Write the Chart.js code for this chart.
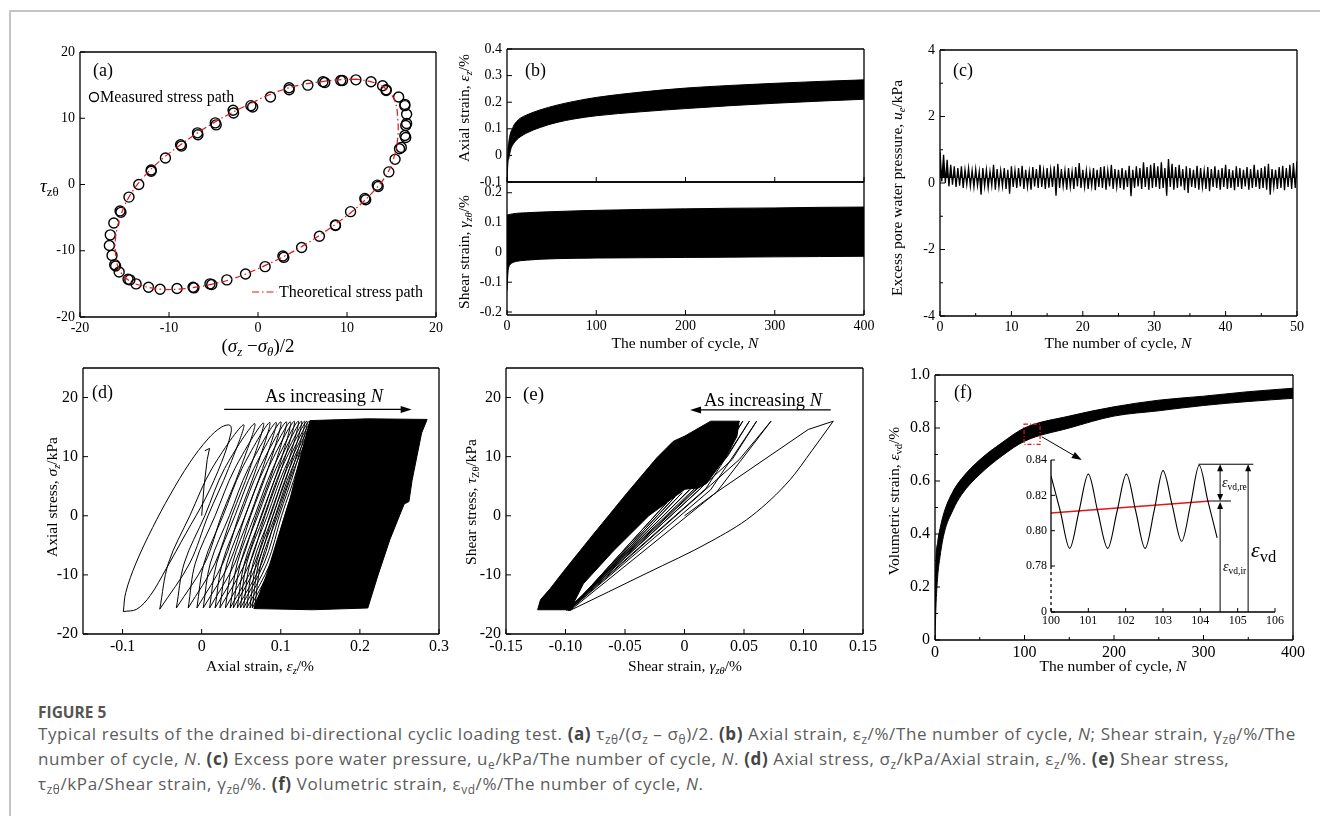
<!DOCTYPE html>
<html>
<head>
<meta charset="utf-8">
<title>Drained bi-directional cyclic loading test</title>
<script src="https://cdn.jsdelivr.net/npm/chart.js@4.4.1/dist/chart.umd.min.js"></script>
<style>
  html, body { margin: 0; padding: 0; background: #fff; }
  body { position: relative; width: 1320px; height: 816px; overflow: hidden;
         font-family: 'Liberation Serif', 'Times New Roman', serif; color: #000; }
  canvas { position: absolute; }
  .edge-top { position: absolute; left: 10px; top: 10px; width: 1310px; border-top: 2px solid #c4c4c4; }
  .edge-left { position: absolute; left: 9px; top: 10px; height: 806px; border-left: 2px solid #c4c4c4; }
  .lbl { position: absolute; white-space: nowrap; line-height: 1; transform: translate(-50%, -50%); }
  .lbl.left { transform: translate(0, -50%); }
  .lbl.rot { transform: translate(-50%, -50%) rotate(-90deg); }
  .lbl sub { font-size: 68%; vertical-align: baseline; position: relative; top: 0.3em; }
  .t15 { font-size: 15.5px; }
  .t16 { font-size: 16px; }
  .t18 { font-size: 18px; }
  #caption { position: absolute; left: 38px; top: 702px; font-family: 'Open Sans', 'Noto Sans', sans-serif; color: #5c5c5c; }
  #caption .fig { font-weight: 700; font-size: 15.5px; line-height: 20px; color: #555; }
  #caption .txt { font-size: 17px; letter-spacing: 0.6px; line-height: 23px; white-space: nowrap; }
  #caption b { color: #444; }
  #caption sub { font-size: 70%; vertical-align: baseline; position: relative; top: 0.35em; }
</style>
</head>
<body>
<div class="edge-top"></div>
<div class="edge-left"></div>

<canvas id="chartA"></canvas>
<canvas id="chartB1"></canvas>
<canvas id="chartB2"></canvas>
<canvas id="chartC"></canvas>
<canvas id="chartD"></canvas>
<canvas id="chartE"></canvas>
<canvas id="chartF"></canvas>
<canvas id="chartInset"></canvas>

<!-- panel (a) -->
<div class="lbl left t18" style="left:93px;top:70px">(a)</div>
<div class="lbl left t16" style="left:100px;top:97px">Measured stress path</div>
<div class="lbl left t16" style="left:279px;top:292px">Theoretical stress path</div>
<div class="lbl left" style="left:40px;top:185px;font-size:19px"><i>τ</i><sub>zθ</sub></div>
<div class="lbl" style="left:258px;top:345px;font-size:19px">(<i>σ</i><sub><i>z</i></sub> −<i>σ</i><sub><i>θ</i></sub>)/2</div>

<!-- panel (b) -->
<div class="lbl left t18" style="left:525px;top:70px">(b)</div>
<div class="lbl rot t15" style="left:464px;top:108px">Axial strain, <i>ε<sub>z</sub></i>/%</div>
<div class="lbl rot t15" style="left:464px;top:252px">Shear strain, <i>γ<sub>zθ</sub></i>/%</div>
<div class="lbl t15" style="left:685px;top:343px">The number of cycle, <i>N</i></div>

<!-- panel (c) -->
<div class="lbl left t18" style="left:953px;top:70px">(c)</div>
<div class="lbl rot t15" style="left:897px;top:188px">Excess pore water pressure, <i>u<sub>e</sub></i>/kPa</div>
<div class="lbl t15" style="left:1118px;top:343px">The number of cycle, <i>N</i></div>

<!-- panel (d) -->
<div class="lbl left t18" style="left:92px;top:392px">(d)</div>
<div class="lbl" style="left:324px;top:396px;font-size:18.5px">As increasing <i>N</i></div>
<div class="lbl rot t15" style="left:52px;top:497px">Axial stress, <i>σ<sub>z</sub></i>/kPa</div>
<div class="lbl t15" style="left:260px;top:666px">Axial strain, <i>ε<sub>z</sub></i>/%</div>

<!-- panel (e) -->
<div class="lbl left" style="left:523px;top:393px;font-size:19px">(e)</div>
<div class="lbl" style="left:763px;top:400px;font-size:18.5px">As increasing <i>N</i></div>
<div class="lbl rot t15" style="left:471px;top:502px">Shear stress, <i>τ</i><sub>Zθ</sub>/kPa</div>
<div class="lbl t15" style="left:685px;top:666px">Shear strain, <i>γ<sub>zθ</sub></i>/%</div>

<!-- panel (f) -->
<div class="lbl left t18" style="left:954px;top:392px">(f)</div>
<div class="lbl rot t15" style="left:894px;top:501px">Volumetric strain, <i>ε</i><sub>vd</sub>/%</div>
<div class="lbl t15" style="left:1113px;top:666px">The number of cycle, <i>N</i></div>
<div class="lbl left" style="left:1222px;top:483px;font-size:14px"><i>ε</i><sub>vd,re</sub></div>
<div class="lbl left" style="left:1223px;top:567px;font-size:14px"><i>ε</i><sub>vd,ir</sub></div>
<div class="lbl left" style="left:1251px;top:550px;font-size:22px"><i>ε</i><sub style="font-size:75%">vd</sub></div>

<div id="caption">
  <div class="fig">FIGURE 5</div>
  <div class="txt">Typical results of the drained bi-directional cyclic loading test. <b>(a)</b> τ<sub>zθ</sub>/(σ<sub>z</sub> – σ<sub>θ</sub>)/2. <b>(b)</b> Axial strain, ε<sub>z</sub>/%/The number of cycle, <i>N</i>; Shear strain, γ<sub>zθ</sub>/%/The<br>number of cycle, <i>N</i>. <b>(c)</b> Excess pore water pressure, u<sub>e</sub>/kPa/The number of cycle, <i>N</i>. <b>(d)</b> Axial stress, σ<sub>z</sub>/kPa/Axial strain, ε<sub>z</sub>/%. <b>(e)</b> Shear stress,<br>τ<sub>zθ</sub>/kPa/Shear strain, γ<sub>zθ</sub>/%. <b>(f)</b> Volumetric strain, ε<sub>vd</sub>/%/The number of cycle, <i>N</i>.</div>
</div>

<script>
// ---------- (a) stress path ----------
const aMeasX = [11.0, 9.3, 7.3, 5.6, 3.5, 1.4, -0.8, -2.8, -4.8, -6.8, -8.7, -10.4, -12.0, -13.4, -14.5, -15.5, -16.2, -16.6, -16.7, -16.4, -16.1, -15.6, -14.6, -13.7, -12.3, -11.0, -9.1, -7.3, -5.4, -3.5, -1.4, 0.8, 2.8, 4.9, 6.9, 8.7, 10.4, 12.0, 13.4, 14.7, 15.4, 16.1, 16.5, 16.7, 16.7, 16.5, 15.8, 14.4, 14.0, 12.7];
const aMeasY = [15.8, 15.7, 15.5, 15.0, 14.6, 13.2, 11.9, 11.2, 9.3, 7.8, 6.0, 4.0, 2.2, 0.0, -1.9, -4.0, -5.8, -7.6, -9.2, -10.7, -12.1, -13.2, -14.3, -15.0, -15.5, -15.8, -15.7, -15.5, -15.0, -14.4, -13.5, -12.4, -10.8, -9.5, -7.8, -6.1, -4.1, -2.1, -0.1, 1.9, 3.8, 5.6, 7.4, 9.2, 10.6, 12.1, 13.2, 14.3, 14.9, 15.5];
// second recorded cycle, where its markers sit apart from the first
const aMeas2X = [-0.6, -2.75, -4.7, -6.75, -8.6, -12.0, -15.4, 3.5, 7.5, 9.5, 14.4, 16.5, 16.6, 16.6, 15.9, 13.5, 12.1, 8.7, 2.9, -5.2, -7.2, -14.4, -16.0];
const aMeas2Y = [11.7, 10.8, 9.0, 7.5, 5.8, 2.0, -4.2, 14.3, 15.4, 15.7, 14.2, 11.9, 8.9, 7.1, 5.4, -0.3, -2.3, -6.2, -11.0, -15.1, -15.6, -14.4, -12.3];
const aTheoX = [11, 9, 7, 5, 3, 1, -1, -3, -5, -7, -9, -11, -13, -14.5, -15.5, -16.0, -16.0, -15.6, -14.5, -13, -11, -9, -7, -5, -3, -1, 1, 3, 5, 7, 9, 11, 13, 14.5, 15.3, 15.7, 15.7, 15.4, 14.5, 13, 11];
const aTheoY = [15.9, 15.8, 15.5, 15.1, 14.4, 13.4, 12.1, 10.8, 9.3, 7.6, 5.7, 3.6, 0.9, -1.9, -5.0, -8.0, -10.5, -12.8, -14.5, -15.3, -15.8, -15.8, -15.5, -15.0, -14.3, -13.3, -12.1, -10.8, -9.3, -7.6, -5.7, -3.6, -1.0, 1.6, 4.2, 7.0, 10.0, 12.5, 14.3, 15.4, 15.9];
const aTicks = [-20, -10, 0, 10, 20];
const aTickLabels = ['-20', '-10', '0', '10', '20'];

// ---------- (b) strain envelopes vs cycle ----------
const bN = [0, 1, 2, 4, 6, 8, 11, 15, 22, 37, 56, 75, 100, 150, 200, 250, 300, 350, 400];
const axialUpper = [-0.10, 0.02, 0.05, 0.085, 0.10, 0.115, 0.128, 0.14, 0.152, 0.171, 0.189, 0.203, 0.218, 0.238, 0.253, 0.263, 0.271, 0.278, 0.284];
const axialLower = [-0.10, -0.03, -0.012, 0.02, 0.037, 0.047, 0.059, 0.07, 0.084, 0.105, 0.124, 0.137, 0.149, 0.164, 0.176, 0.187, 0.196, 0.204, 0.211];
const shearUpper = [0.125, 0.126, 0.127, 0.128, 0.129, 0.13, 0.131, 0.132, 0.133, 0.135, 0.137, 0.139, 0.141, 0.144, 0.146, 0.148, 0.149, 0.151, 0.152];
const shearLower = [-0.13, -0.07, -0.05, -0.04, -0.035, -0.032, -0.03, -0.028, -0.026, -0.023, -0.021, -0.02, -0.019, -0.018, -0.017, -0.016, -0.015, -0.014, -0.013];
const bXTicks = [0, 100, 200, 300, 400];
const bXLabels = ['0', '100', '200', '300', '400'];
const bTopTicks = [-0.1, 0, 0.1, 0.2, 0.3, 0.4];
const bTopLabels = ['-0.1', '0', '0.1', '0.2', '0.3', '0.4'];
const bBotTicks = [-0.2, -0.1, 0, 0.1, 0.2];
const bBotLabels = ['-0.2', '-0.1', '0', '0.1', '0.2'];

// ---------- (c) excess pore water pressure, peaks and troughs every half cycle ----------
const cStep = 0.5;
const cMean = 0.15;
const cPeaks = [0.95, 0.85, 0.70, 0.55, 0.50, 0.45, 0.50, 0.40, 0.45, 0.38, 0.42,
  0.35, 0.45, 0.40, 0.35, 0.55, 0.42, 0.38, 0.45, 0.40, 0.50,
  0.38, 0.45, 0.52, 0.40, 0.35, 0.48, 0.42, 0.55, 0.38, 0.45,
  0.40, 0.50, 0.58, 0.42, 0.38, 0.45, 0.35, 0.48, 0.60, 0.40,
  0.38, 0.35, 0.45, 0.40, 0.48, 0.50, 0.38, 0.55, 0.42, 0.40,
  0.45, 0.38, 0.52, 0.40, 0.50, 0.45, 0.62, 0.48, 0.55, 0.60,
  0.50, 0.62, 0.45, 0.72, 0.58, 0.48, 0.55, 0.42, 0.50, 0.45,
  0.40, 0.52, 0.45, 0.38, 0.48, 0.42, 0.50, 0.40, 0.45, 0.55,
  0.42, 0.38, 0.50, 0.45, 0.40, 0.48, 0.42, 0.55, 0.40, 0.45,
  0.50, 0.58, 0.42, 0.40, 0.48, 0.52, 0.45, 0.55, 0.60, 0.65];
const cTroughs = [0.05, 0.0, -0.10, -0.05, -0.12, -0.08, -0.15, -0.05, -0.10, -0.12, -0.08,
  -0.35, -0.10, -0.15, -0.08, -0.20, -0.12, -0.10, -0.18, -0.32, -0.12,
  -0.15, -0.10, -0.18, -0.12, -0.20, -0.10, -0.15, -0.12, -0.18, -0.14,
  -0.12, -0.38, -0.15, -0.10, -0.20, -0.12, -0.18, -0.10, -0.15, -0.12,
  -0.18, -0.10, -0.22, -0.12, -0.15, -0.20, -0.10, -0.18, -0.12, -0.15,
  -0.20, -0.12, -0.40, -0.15, -0.10, -0.18, -0.12, -0.20, -0.15, -0.12,
  -0.18, -0.15, -0.38, -0.12, -0.20, -0.15, -0.10, -0.22, -0.30, -0.12,
  -0.15, -0.20, -0.12, -0.18, -0.25, -0.12, -0.15, -0.20, -0.12, -0.18,
  -0.15, -0.22, -0.12, -0.18, -0.10, -0.20, -0.15, -0.12, -0.18, -0.15,
  -0.20, -0.35, -0.12, -0.18, -0.15, -0.22, -0.12, -0.18, -0.15, -0.10];
const cXTicks = [0, 10, 20, 30, 40, 50];
const cXMinor = [5, 15, 25, 35, 45];
const cYTicks = [-4, -2, 0, 2, 4];
const cYMinor = [-3, -1, 1, 3];

// ---------- (d) axial stress-strain loops, each closed from its lower-left tip ----------
const dStart = [[0, 0], [0.003, 5], [0.007, 9.5], [0.010, 11.4], [0.004, 11.0]];
const dLoops = [
  [[-0.099, -16.2], [-0.096, -13], [-0.083, -8], [-0.062, -2], [-0.040, 3.5], [-0.015, 9], [0.008, 13], [0.025, 15], [0.036, 15.3], [0.037, 14], [0.025, 9], [0.005, 3], [-0.020, -3], [-0.045, -9], [-0.065, -13.5], [-0.082, -15.8], [-0.099, -16.2]],
  [[-0.053, -15.8], [-0.042, -8], [-0.015, 0], [0.013, 8], [0.053, 15.4], [0.034, 8], [0.008, 0], [-0.015, -8], [-0.053, -15.8]],
  [[-0.032, -15.6], [-0.022, -8], [0.004, 0], [0.029, 8], [0.067, 15.6], [0.049, 8], [0.025, 0], [0.004, -8], [-0.032, -15.6]],
  [[-0.017, -15.6], [-0.008, -8], [0.017, 0], [0.042, 8], [0.078, 15.7], [0.061, 8], [0.038, 0], [0.017, -8], [-0.017, -15.6]],
  [[-0.006, -15.6], [0.003, -8], [0.027, 0], [0.051, 8], [0.086, 15.8], [0.069, 8], [0.047, 0], [0.027, -8], [-0.006, -15.6]],
  [[0.002, -15.6], [0.011, -8], [0.035, 0], [0.059, 8], [0.094, 15.8], [0.077, 8], [0.055, 0], [0.035, -8], [0.002, -15.6]],
  [[0.010, -15.6], [0.019, -8], [0.042, 0], [0.066, 8], [0.100, 15.9], [0.084, 8], [0.062, 0], [0.042, -8], [0.010, -15.6]],
  [[0.017, -15.6], [0.026, -8], [0.049, 0], [0.073, 8], [0.107, 15.9], [0.091, 8], [0.069, 0], [0.049, -8], [0.017, -15.6]],
  [[0.023, -15.6], [0.032, -8], [0.055, 0], [0.079, 8], [0.112, 15.9], [0.097, 8], [0.075, 0], [0.055, -8], [0.023, -15.6]],
  [[0.030, -15.6], [0.039, -8], [0.061, 0], [0.084, 8], [0.117, 16], [0.101, 8], [0.080, 0], [0.061, -8], [0.030, -15.6]],
  [[0.036, -15.6], [0.045, -8], [0.067, 0], [0.090, 8], [0.122, 16], [0.107, 8], [0.086, 0], [0.067, -8], [0.036, -15.6]],
  [[0.040, -15.6], [0.049, -8], [0.071, 0], [0.094, 8], [0.126, 16], [0.111, 8], [0.090, 0], [0.071, -8], [0.040, -15.6]],
  [[0.045, -15.6], [0.054, -8], [0.076, 0], [0.098, 8], [0.130, 16], [0.115, 8], [0.094, 0], [0.076, -8], [0.045, -15.6]],
  [[0.049, -15.6], [0.057, -8], [0.079, 0], [0.101, 8], [0.133, 16], [0.118, 8], [0.098, 0], [0.079, -8], [0.049, -15.6]],
  [[0.053, -15.6], [0.061, -8], [0.083, 0], [0.105, 8], [0.136, 16], [0.121, 8], [0.101, 0], [0.083, -8], [0.053, -15.6]],
  [[0.057, -15.6], [0.065, -8], [0.087, 0], [0.108, 8], [0.139, 16], [0.124, 8], [0.105, 0], [0.087, -8], [0.057, -15.6]],
  [[0.061, -15.6], [0.069, -8], [0.090, 0], [0.111, 8], [0.141, 16], [0.126, 8], [0.108, 0], [0.090, -8], [0.061, -15.6]],
  [[0.064, -15.6], [0.072, -8], [0.093, 0], [0.114, 8], [0.143, 16], [0.128, 8], [0.111, 0], [0.093, -8], [0.064, -15.6]],
  [[0.067, -15.6], [0.075, -8], [0.096, 0], [0.117, 8], [0.145, 16], [0.130, 8], [0.114, 0], [0.096, -8], [0.067, -15.6]]
];
// region where the later cycles overlap completely
const dSolid = [[0.066, -15.7], [0.14, -15.9], [0.21, -15.6], [0.223, -10], [0.238, -4], [0.250, 0], [0.256, 2.0], [0.262, 2.4], [0.266, 6], [0.272, 10], [0.278, 14], [0.285, 16.3], [0.21, 16.4], [0.137, 16.1], [0.125, 10], [0.112, 3], [0.098, -3], [0.082, -10], [0.066, -15.7]];
const dXTicks = [-0.1, 0, 0.1, 0.2, 0.3];
const dXLabels = ['-0.1', '0', '0.1', '0.2', '0.3'];
const stressTicks = [-20, -10, 0, 10, 20];
const stressLabels = ['-20', '-10', '0', '10', '20'];

// ---------- (e) shear stress-strain loops ----------
const eFirst = [[0, 0], [0.027, 4.0], [0.104, 14.6], [0.125, 16.0]];
const eFirstBack = [[-0.096, -16], [-0.0316, -9.7], [0.0215, -4.4], [0.0566, 0], [0.0887, 6.1], [0.107, 11.0], [0.125, 16]];
const eCycles = [
  [[-0.096, -16], [0.027, 4.0], [0.0727, 16], [0.046, 9.5], [0.022, 5.2], [-0.097, -16]],
  [[-0.097, -16], [0.022, 4.4], [0.0606, 16], [0.040, 9.5], [0.017, 5.3], [-0.098, -16]],
  [[-0.098, -16], [0.018, 4.6], [0.0545, 16], [0.036, 10], [0.013, 5.0], [-0.098, -16]],
  [[-0.098, -16], [0.014, 4.7], [0.049, 16], [0.033, 11], [0.010, 4.9], [-0.099, -16]],
  [[-0.099, -16], [0.011, 4.8], [0.046, 16], [0.030, 11], [0.006, 4.7], [-0.099, -16]]
];
const eFan = [[-0.097, -16], [-0.015, 2.2], [-0.097, -16], [-0.008, 3.2], [-0.097, -16], [-0.002, 3.9], [-0.097, -16], [0.004, 4.4]];
const eSolid = [[-0.1234, -15.9], [-0.121, -14.2], [-0.1128, -12.3], [-0.1016, -9.4], [-0.0793, -3.8], [-0.0485, 3.8], [-0.0233, 9.8], [-0.0094, 12.6], [0.0004, 13.5], [0.0116, 14.8], [0.022, 16.0], [0.046, 16.0], [0.044, 13.4], [0.035, 10.0], [0.027, 7.8], [0.0186, 5.5], [0.0116, 4.7], [0.0004, 4.5], [-0.03, 0], [-0.06, -6], [-0.085, -11.5], [-0.096, -15.9], [-0.1234, -15.9]];
const eXTicks = [-0.15, -0.10, -0.05, 0, 0.05, 0.10, 0.15];
const eXLabels = ['-0.15', '-0.10', '-0.05', '0', '0.05', '0.10', '0.15'];

// ---------- (f) volumetric strain ----------
const fN = [0, 1, 3, 5, 10, 20, 30, 50, 75, 100, 150, 200, 250, 300, 350, 400];
const volUpper = [0.15, 0.30, 0.37, 0.41, 0.48, 0.56, 0.61, 0.68, 0.745, 0.80, 0.845, 0.88, 0.905, 0.92, 0.937, 0.95];
const volLower = [0.00, 0.12, 0.24, 0.30, 0.40, 0.49, 0.55, 0.625, 0.695, 0.75, 0.80, 0.845, 0.865, 0.885, 0.90, 0.912];
const fXTicks = [0, 100, 200, 300, 400];
const fXMinor = [50, 150, 250, 350];
const fYTicks = [0, 0.2, 0.4, 0.6, 0.8, 1.0];
const fYLabels = ['0', '0.2', '0.4', '0.6', '0.8', '1.0'];
const fYMinor = [0.1, 0.3, 0.5, 0.7, 0.9];
const zoomBox = {n0: 99.5, n1: 117.4, v0: 0.738, v1: 0.815};

// inset: cycles 100-104.5
const insetN = [100.00, 100.25, 100.50, 100.75, 101.00, 101.25, 101.52, 101.77, 102.02, 102.27, 102.52, 102.77, 103.00, 103.25, 103.50, 103.74, 103.97, 104.20, 104.45];
const insetV = [0.831, 0.811, 0.790, 0.811, 0.832, 0.811, 0.790, 0.811, 0.832, 0.811, 0.790, 0.812, 0.834, 0.814, 0.794, 0.815, 0.837, 0.817, 0.796];
const trendN = [100, 104.27];
const trendV = [0.810, 0.8168];
const insetXTicks = [100, 101, 102, 103, 104, 105, 106];
const insetYTicks = [0.754, 0.78, 0.80, 0.82, 0.84];
const insetYLabels = ['0', '0.78', '0.80', '0.82', '0.84'];
const insetBreak = 0.78;
const vdPeak = 0.8376;
const vdTrend = 0.8168;

// ---------- helpers ----------
Chart.defaults.font.family = "'Liberation Serif', 'Times New Roman', serif";
Chart.defaults.color = '#000';

const xy = (xs, ys) => xs.map((x, i) => ({x, y: ys[i]}));
const pairs = pts => pts.map(([x, y]) => ({x, y}));

function axis(min, max, ticks, labels, size, extra) {
  return Object.assign({
    type: 'linear', min, max,
    afterBuildTicks: s => { s.ticks = ticks.map(v => ({value: v})); },
    ticks: {
      font: {size}, color: '#000', padding: 5, autoSkip: false, maxRotation: 0,
      callback: (v, i) => labels[i]
    },
    grid: {display: false, drawTicks: false},
    border: {display: false}
  }, extra || {});
}

// box outline plus inward tick marks
function frame(o) {
  return {
    id: 'frame',
    afterDatasetsDraw(chart) {
      const {ctx, chartArea: a, scales: {x, y}} = chart;
      const sides = o.sides || 'lbrt';
      ctx.save();
      ctx.strokeStyle = '#000';
      ctx.lineWidth = 1.3;
      ctx.beginPath();
      if (sides.includes('t')) { ctx.moveTo(a.left, a.top); ctx.lineTo(a.right, a.top); }
      if (sides.includes('r')) { ctx.moveTo(a.right, a.top); ctx.lineTo(a.right, a.bottom); }
      if (sides.includes('b')) { ctx.moveTo(a.left, a.bottom); ctx.lineTo(a.right, a.bottom); }
      if (sides.includes('l')) {
        const yb = o.breakAt !== undefined ? y.getPixelForValue(o.breakAt) : a.bottom;
        ctx.moveTo(a.left, a.top); ctx.lineTo(a.left, yb);
      }
      ctx.stroke();
      if (o.breakAt !== undefined) {
        ctx.setLineDash([3, 3]);
        ctx.beginPath();
        ctx.moveTo(a.left, y.getPixelForValue(o.breakAt)); ctx.lineTo(a.left, a.bottom);
        ctx.stroke();
        ctx.setLineDash([]);
      }
      const len = o.tick || 5;
      ctx.lineWidth = 1;
      ctx.beginPath();
      x.ticks.forEach(t => { const p = x.getPixelForValue(t.value); ctx.moveTo(p, a.bottom); ctx.lineTo(p, a.bottom - len); });
      (o.minorX || []).forEach(v => { const p = x.getPixelForValue(v); ctx.moveTo(p, a.bottom); ctx.lineTo(p, a.bottom - len * 0.6); });
      y.ticks.forEach(t => { const p = y.getPixelForValue(t.value); ctx.moveTo(a.left, p); ctx.lineTo(a.left + len, p); });
      (o.minorY || []).forEach(v => { const p = y.getPixelForValue(v); ctx.moveTo(a.left, p); ctx.lineTo(a.left + len * 0.6, p); });
      ctx.stroke();
      ctx.restore();
    }
  };
}

function arrow(ctx, x1, y1, x2, y2, head, half) {
  const ang = Math.atan2(y2 - y1, x2 - x1);
  const c = Math.cos(ang), s = Math.sin(ang);
  ctx.beginPath();
  ctx.moveTo(x1, y1);
  ctx.lineTo(x2 - c * head * 0.7, y2 - s * head * 0.7);
  ctx.stroke();
  ctx.beginPath();
  ctx.moveTo(x2, y2);
  ctx.lineTo(x2 - head * c + half * s, y2 - head * s - half * c);
  ctx.lineTo(x2 - head * c - half * s, y2 - head * s + half * c);
  ctx.closePath();
  ctx.fill();
}

function plot(id, box, pad, xAxis, yAxis, datasets, plugins) {
  const cv = document.getElementById(id);
  const w = box.R - box.L + pad.l + pad.r;
  const h = box.B - box.T + pad.t + pad.b;
  cv.width = w; cv.height = h;
  cv.style.left = (box.L - pad.l) + 'px';
  cv.style.top = (box.T - pad.t) + 'px';
  cv.style.width = w + 'px';
  cv.style.height = h + 'px';
  xAxis.afterFit = s => { s.height = pad.b; s.paddingLeft = 0; s.paddingRight = 0; };
  yAxis.afterFit = s => { s.width = pad.l; s.paddingTop = 0; s.paddingBottom = 0; };
  return new Chart(cv, {
    type: 'line',
    data: {datasets},
    options: {
      responsive: false, animation: false, events: [],
      layout: {padding: {left: 0, right: pad.r, top: pad.t, bottom: 0}},
      plugins: {legend: {display: false}, tooltip: {enabled: false}},
      elements: {point: {radius: 0}, line: {borderWidth: 1, borderColor: '#000', fill: false}},
      scales: {x: xAxis, y: yAxis}
    },
    plugins
  });
}

const PAD = {l: 45, t: 12, r: 22, b: 26};
const line = (data, more) => Object.assign({data, borderColor: '#000', borderWidth: 1, pointRadius: 0, tension: 0}, more || {});
const rings = {showLine: false, pointRadius: 5, pointBorderWidth: 1.4, pointBorderColor: '#000', pointBackgroundColor: 'rgba(0,0,0,0)'};

// ---------- (a) ----------
plot('chartA', {L: 80, T: 52, R: 436, B: 317}, PAD,
  axis(-20, 20, aTicks, aTickLabels, 14, {ticks: {font: {size: 14}, padding: 3, callback: (v, i) => aTickLabels[i]}}),
  axis(-20, 20, aTicks, aTickLabels, 14),
  [
    line(xy(aTheoX, aTheoY), {borderColor: '#e3161d', borderWidth: 1.2, borderDash: [7, 3, 1.5, 3], tension: 0.4}),
    line(xy(aMeasX, aMeasY), rings),
    line(xy(aMeas2X, aMeas2Y), rings)
  ],
  [frame({}), {
    id: 'legendA',
    afterDatasetsDraw(chart) {
      const {ctx, chartArea: a} = chart;
      ctx.save();
      ctx.strokeStyle = '#000'; ctx.lineWidth = 1.3;
      ctx.beginPath(); ctx.arc(a.left + 14, a.top + 45, 4.5, 0, Math.PI * 2); ctx.stroke();
      ctx.strokeStyle = '#e3161d'; ctx.lineWidth = 1.2; ctx.setLineDash([7, 3, 1.5, 3]);
      ctx.beginPath(); ctx.moveTo(a.left + 172, a.top + 240); ctx.lineTo(a.left + 197, a.top + 240); ctx.stroke();
      ctx.restore();
    }
  }]
);

// ---------- (b) ----------
plot('chartB1', {L: 507, T: 49, R: 864, B: 182}, {l: 45, t: 12, r: 22, b: 10},
  axis(0, 400, bXTicks, bXLabels, 14, {ticks: {display: false}}),
  axis(-0.1, 0.4, bTopTicks, bTopLabels, 14),
  [
    line(xy(bN, axialUpper), {cubicInterpolationMode: 'monotone'}),
    line(xy(bN, axialLower), {cubicInterpolationMode: 'monotone', fill: '-1', backgroundColor: '#000'})
  ],
  [frame({})]
);
plot('chartB2', {L: 507, T: 182, R: 864, B: 315}, {l: 45, t: 10, r: 22, b: 26},
  axis(0, 400, bXTicks, bXLabels, 14, {ticks: {font: {size: 14}, padding: 3, callback: (v, i) => bXLabels[i]}}),
  axis(-0.21, 0.236, bBotTicks, bBotLabels, 14),
  [
    line(xy(bN, shearUpper), {cubicInterpolationMode: 'monotone'}),
    line(xy(bN, shearLower), {cubicInterpolationMode: 'monotone', fill: '-1', backgroundColor: '#000'})
  ],
  [frame({})]
);

// ---------- (c) ----------
const cTrace = [];
cPeaks.forEach((p, i) => {
  cTrace.push({x: i * cStep, y: p});
  if (i < cPeaks.length - 1) cTrace.push({x: i * cStep + cStep / 2, y: cTroughs[i]});
});
plot('chartC', {L: 940, T: 50, R: 1297, B: 316}, PAD,
  axis(0, 50, cXTicks, cXTicks.map(String), 14, {ticks: {font: {size: 14}, padding: 3, callback: (v, i) => String(cXTicks[i])}}),
  axis(-4, 4, cYTicks, cYTicks.map(String), 14),
  [line(cTrace, {borderWidth: 1.3, fill: {value: cMean}, backgroundColor: '#000'})],
  [frame({minorX: cXMinor, minorY: cYMinor})]
);

// ---------- (d) ----------
const dSets = [line(pairs(dSolid), {fill: 'shape', backgroundColor: '#000'}), line(pairs(dStart))];
dLoops.forEach(l => dSets.push(line(pairs(l), {tension: 0.35})));
plot('chartD', {L: 83, T: 368, R: 439, B: 634}, {l: 45, t: 12, r: 22, b: 28},
  axis(-0.15, 0.3, dXTicks, dXLabels, 16, {ticks: {font: {size: 16}, padding: 3, callback: (v, i) => dXLabels[i]}}),
  axis(-20, 25, stressTicks, stressLabels, 16),
  dSets,
  [frame({}), {
    id: 'arrowD',
    afterDatasetsDraw(chart) {
      const {ctx, scales: {x, y}} = chart;
      ctx.save(); ctx.strokeStyle = '#000'; ctx.fillStyle = '#000'; ctx.lineWidth = 1.2;
      arrow(ctx, x.getPixelForValue(0.0285), y.getPixelForValue(18.0), x.getPixelForValue(0.2655), y.getPixelForValue(18.0), 11, 3.5);
      ctx.restore();
    }
  }]
);

// ---------- (e) ----------
const eSets = [line(pairs(eSolid), {fill: 'shape', backgroundColor: '#000'}), line(pairs(eFirst)),
  line(pairs(eFirstBack), {cubicInterpolationMode: 'monotone'}), line(pairs(eFan))];
eCycles.forEach(c => eSets.push(line(pairs(c))));
plot('chartE', {L: 506, T: 368, R: 863, B: 634}, {l: 45, t: 12, r: 22, b: 28},
  axis(-0.15, 0.15, eXTicks, eXLabels, 16, {ticks: {font: {size: 16}, padding: 3, callback: (v, i) => eXLabels[i]}}),
  axis(-20, 25, stressTicks, stressLabels, 16),
  eSets,
  [frame({}), {
    id: 'arrowE',
    afterDatasetsDraw(chart) {
      const {ctx, scales: {x, y}} = chart;
      ctx.save(); ctx.strokeStyle = '#000'; ctx.fillStyle = '#000'; ctx.lineWidth = 1.2;
      arrow(ctx, x.getPixelForValue(0.1229), y.getPixelForValue(17.9), x.getPixelForValue(0.0047), y.getPixelForValue(17.9), 11, 3.5);
      ctx.restore();
    }
  }]
);

// ---------- (f) ----------
plot('chartF', {L: 935, T: 375, R: 1293, B: 640}, {l: 45, t: 12, r: 22, b: 28},
  axis(0, 400, fXTicks, fXTicks.map(String), 16, {ticks: {font: {size: 16}, padding: 3, callback: (v, i) => String(fXTicks[i])}}),
  axis(0, 1.0, fYTicks, fYLabels, 16),
  [
    line(xy(fN, volUpper), {cubicInterpolationMode: 'monotone'}),
    line(xy(fN, volLower), {cubicInterpolationMode: 'monotone', fill: '-1', backgroundColor: '#000'})
  ],
  [frame({minorX: fXMinor, minorY: fYMinor}), {
    id: 'zoomMark',
    afterDatasetsDraw(chart) {
      const {ctx, scales: {x, y}} = chart;
      const x0 = x.getPixelForValue(zoomBox.n0), x1 = x.getPixelForValue(zoomBox.n1);
      const y0 = y.getPixelForValue(zoomBox.v0), y1 = y.getPixelForValue(zoomBox.v1);
      ctx.save();
      ctx.strokeStyle = '#e3161d'; ctx.lineWidth = 1.2; ctx.setLineDash([4, 2, 1, 2]);
      ctx.strokeRect(x0, y1, x1 - x0, y0 - y1);
      ctx.setLineDash([]);
      ctx.strokeStyle = '#000'; ctx.fillStyle = '#000'; ctx.lineWidth = 1;
      arrow(ctx, x.getPixelForValue(119.3), y.getPixelForValue(0.767), x.getPixelForValue(164), y.getPixelForValue(0.679), 10, 3.5);
      ctx.restore();
    }
  }]
);

// inset of cycles 100-104.5
plot('chartInset', {L: 1051, T: 460, R: 1275, B: 612}, {l: 40, t: 10, r: 16, b: 20},
  axis(100, 106, insetXTicks, insetXTicks.map(String), 12, {ticks: {font: {size: 12}, padding: 2, callback: (v, i) => String(insetXTicks[i])}}),
  axis(0.754, 0.84, insetYTicks, insetYLabels, 12, {ticks: {font: {size: 12}, padding: 4, callback: (v, i) => insetYLabels[i]}}),
  [
    line(xy(insetN, insetV), {cubicInterpolationMode: 'monotone', borderWidth: 1.1}),
    line(xy(trendN, trendV), {borderColor: '#e3161d', borderWidth: 1.5})
  ],
  [frame({sides: 'lb', breakAt: insetBreak, tick: 4}), {
    id: 'insetNotes',
    afterDatasetsDraw(chart) {
      const {ctx, chartArea: a, scales: {x, y}} = chart;
      const px = v => x.getPixelForValue(v), py = v => y.getPixelForValue(v);
      ctx.save();
      ctx.strokeStyle = '#000'; ctx.fillStyle = '#000'; ctx.lineWidth = 1;
      ctx.beginPath();
      ctx.moveTo(px(103.95), py(vdPeak)); ctx.lineTo(px(105.42), py(vdPeak));
      ctx.moveTo(px(104.27), py(vdTrend)); ctx.lineTo(px(104.82), py(vdTrend));
      ctx.stroke();
      const xa = px(104.53), xb = px(105.28);
      const mid = (py(vdPeak) + py(vdTrend)) / 2;
      arrow(ctx, xa, mid, xa, py(vdPeak), 7, 3);
      arrow(ctx, xa, mid, xa, py(vdTrend), 7, 3);
      arrow(ctx, xa, a.bottom, xa, py(vdTrend) + 1, 7, 3);
      arrow(ctx, xb, a.bottom, xb, py(vdPeak), 7, 3);
      ctx.restore();
    }
  }]
);
</script>
</body>
</html>
